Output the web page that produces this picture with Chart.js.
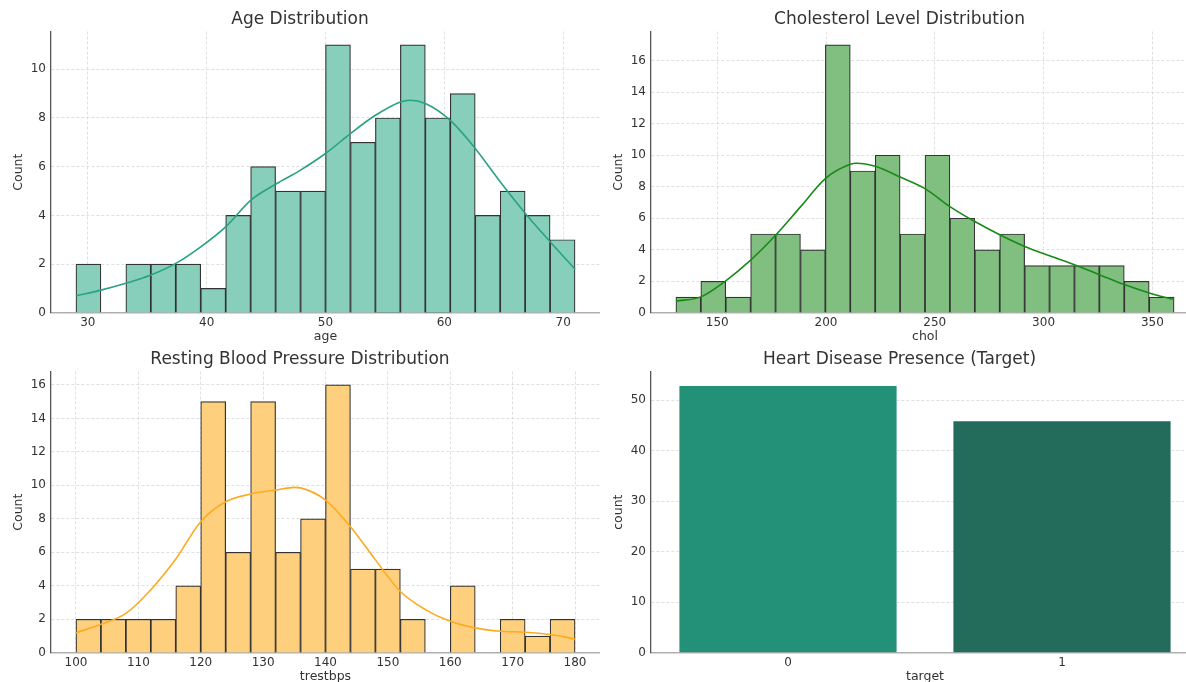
<!DOCTYPE html>
<html>
<head>
<meta charset="utf-8">
<script src="https://cdn.jsdelivr.net/npm/chart.js@4.4.1/dist/chart.umd.min.js"></script>
<style>
  html, body { margin: 0; padding: 0; background: #fff; }
  body { width: 1186px; height: 682px; overflow: hidden; position: relative; }
  canvas { position: absolute; }
</style>
</head>
<body>
<canvas id="age" width="600" height="350" style="left:0;top:0"></canvas>
<canvas id="chol" width="599" height="350" style="left:600px;top:0"></canvas>
<canvas id="bp" width="600" height="350" style="left:0;top:340px"></canvas>
<canvas id="target" width="599" height="350" style="left:600px;top:340px"></canvas>
<script>
// age
const ageEdges = [29, 31.1, 33.2, 35.3, 37.4, 39.5, 41.6, 43.7, 45.8, 47.9, 50, 52.1, 54.2, 56.3, 58.4, 60.5, 62.6, 64.7, 66.8, 68.9, 71];
const ageCounts = [2, 0, 2, 2, 2, 1, 4, 6, 5, 5, 11, 7, 8, 11, 8, 9, 4, 5, 4, 3];
const ageKdeX = [29, 31.1, 33.2, 35.3, 37.4, 39.5, 41.6, 43.7, 45.8, 47.9, 50, 52.1, 54.2, 56.3, 57.1, 58.4, 60.5, 62.6, 64.7, 66.8, 68.9, 71];
const ageKdeY = [0.7, 0.93, 1.21, 1.55, 2.03, 2.71, 3.53, 4.62, 5.28, 5.86, 6.54, 7.36, 8.11, 8.66, 8.73, 8.59, 7.9, 6.75, 5.38, 4.09, 2.92, 1.79];
const ageTicks = [30, 40, 50, 60, 70];
const ageCountTicks = [0, 2, 4, 6, 8, 10];

// cholesterol
const cholEdges = [131, 142.45, 153.9, 165.35, 176.8, 188.25, 199.7, 211.15, 222.6, 234.05, 245.5, 256.95, 268.4, 279.85, 291.3, 302.75, 314.2, 325.65, 337.1, 348.55, 360];
const cholCounts = [1, 2, 1, 5, 5, 4, 17, 9, 10, 5, 10, 6, 4, 5, 3, 3, 3, 3, 2, 1];
const cholKdeX = [131, 142.45, 153.9, 165.35, 176.8, 188.25, 199.7, 211.15, 214, 222.6, 234.05, 245.5, 256.95, 268.4, 279.85, 291.3, 302.75, 314.2, 325.65, 337.1, 348.55, 360];
const cholKdeY = [0.74, 1.01, 2.03, 3.34, 4.92, 6.72, 8.52, 9.42, 9.49, 9.3, 8.62, 7.88, 6.74, 5.79, 4.95, 4.21, 3.62, 3.05, 2.42, 1.79, 1.26, 0.84];
const cholTicks = [150, 200, 250, 300, 350];
const cholCountTicks = [0, 2, 4, 6, 8, 10, 12, 14, 16];

// resting blood pressure
const bpEdges = [100, 104, 108, 112, 116, 120, 124, 128, 132, 136, 140, 144, 148, 152, 156, 160, 164, 168, 172, 176, 180];
const bpCounts = [2, 2, 2, 2, 4, 15, 6, 15, 6, 8, 16, 5, 5, 2, 0, 4, 0, 2, 1, 2];
const bpKdeX = [100, 104, 108, 112, 116, 120, 124, 128, 132, 135, 136, 140, 144, 148, 152, 156, 160, 164, 168, 172, 176, 180];
const bpKdeY = [1.19, 1.7, 2.35, 3.77, 5.6, 7.83, 9.02, 9.48, 9.72, 9.88, 9.85, 9.12, 7.53, 5.55, 3.66, 2.58, 1.88, 1.49, 1.29, 1.23, 1.09, 0.83];
const bpTicks = [100, 110, 120, 130, 140, 150, 160, 170, 180];
const bpCountTicks = [0, 2, 4, 6, 8, 10, 12, 14, 16];

// target
const targetLabels = ["0", "1"];
const targetCounts = [53, 46];
const targetColors = ["#229178", "#236b5b"];
const targetCountTicks = [0, 10, 20, 30, 40, 50];

Chart.defaults.font.family = "'DejaVu Sans', sans-serif";
Chart.defaults.color = "#333";
Chart.defaults.animation = false;

function setTicks(list) {
  return (s) => {
    s.ticks = list.map((v) => ({ value: v }));
  };
}

function options(title, xScale, yTitle, yMax, yTicks) {
  return {
    responsive: false,
    devicePixelRatio: 1,
    layout: { padding: 0 },
    plugins: {
      legend: { display: false },
      tooltip: { enabled: false },
      title: {
        display: true,
        text: title,
        color: "#333",
        font: { size: 17, weight: "normal" },
        padding: { top: 9.8, bottom: 1.3 },
      },
    },
    scales: {
      x: xScale,
      y: {
        min: 0,
        max: yMax,
        afterBuildTicks: setTicks(yTicks),
        afterFit: (s) => {
          s.width = 51;
        },
        grid: { color: "#d8d8d8", lineWidth: 0.8, drawTicks: false },
        border: { color: "#555", width: 1.3, dash: [3, 2] },
        ticks: { padding: 5, font: { size: 12 }, color: "#333" },
        title: {
          display: true,
          text: yTitle,
          color: "#333",
          font: { size: 12.5 },
          padding: { top: 10.9, bottom: 0 },
        },
      },
    },
  };
}

function xAxis(label, extra) {
  return Object.assign(
    {
      afterFit: (s) => {
        s.height = 37.2;
      },
      border: { color: "#b0b0b0", width: 1.6, dash: [3, 2] },
      ticks: { padding: 3, font: { size: 12 }, color: "#333", maxRotation: 0 },
      title: {
        display: true,
        text: label,
        color: "#333",
        font: { size: 12.5 },
        padding: { top: 0, bottom: 5.8 },
      },
    },
    extra
  );
}

function hist(id, cfg) {
  const bars = cfg.counts.map((c, i) => ({
    x: (cfg.edges[i] + cfg.edges[i + 1]) / 2,
    y: c,
  }));
  const kde = cfg.kdeX.map((x, i) => ({ x: x, y: cfg.kdeY[i] }));
  const x = xAxis(cfg.xLabel, {
    type: "linear",
    min: cfg.xMin,
    max: cfg.xMax,
    offset: false,
    afterBuildTicks: setTicks(cfg.xTicks),
    grid: { color: "#d8d8d8", lineWidth: 0.8, drawTicks: false, offset: false },
  });
  return new Chart(document.getElementById(id), {
    type: "bar",
    data: {
      datasets: [
        {
          type: "line",
          data: kde,
          borderColor: cfg.line,
          borderWidth: 1.6,
          pointRadius: 0,
          cubicInterpolationMode: "monotone",
          order: 0,
        },
        {
          data: bars,
          backgroundColor: cfg.fill,
          borderColor: "#333",
          borderWidth: 1.2,
          barPercentage: 1,
          categoryPercentage: 1,
          order: 1,
        },
      ],
    },
    options: options(cfg.title, x, "Count", cfg.yMax, cfg.yTicks),
  });
}

hist("age", {
  title: "Age Distribution",
  xLabel: "age",
  edges: ageEdges,
  counts: ageCounts,
  kdeX: ageKdeX,
  kdeY: ageKdeY,
  xTicks: ageTicks,
  yTicks: ageCountTicks,
  xMin: 26.9,
  xMax: 73.1,
  yMax: 11.55,
  fill: "#87cfba",
  line: "#27a383",
});

hist("chol", {
  title: "Cholesterol Level Distribution",
  xLabel: "chol",
  edges: cholEdges,
  counts: cholCounts,
  kdeX: cholKdeX,
  kdeY: cholKdeY,
  xTicks: cholTicks,
  yTicks: cholCountTicks,
  xMin: 119.55,
  xMax: 371.45,
  yMax: 17.85,
  fill: "#80bf7f",
  line: "#198a19",
});

hist("bp", {
  title: "Resting Blood Pressure Distribution",
  xLabel: "trestbps",
  edges: bpEdges,
  counts: bpCounts,
  kdeX: bpKdeX,
  kdeY: bpKdeY,
  xTicks: bpTicks,
  yTicks: bpCountTicks,
  xMin: 96,
  xMax: 184,
  yMax: 16.8,
  fill: "#fed07e",
  line: "#fdaa22",
});

// countplot
new Chart(document.getElementById("target"), {
  type: "bar",
  data: {
    labels: targetLabels,
    datasets: [
      {
        data: targetCounts,
        backgroundColor: targetColors,
        borderColor: "rgba(255,255,255,0.5)",
        borderWidth: 1,
        barPercentage: 0.8,
        categoryPercentage: 1,
      },
    ],
  },
  options: options(
    "Heart Disease Presence (Target)",
    xAxis("target", { offset: true, grid: { display: false, drawTicks: false } }),
    "count",
    55.65,
    targetCountTicks
  ),
});
</script>
</body>
</html>
